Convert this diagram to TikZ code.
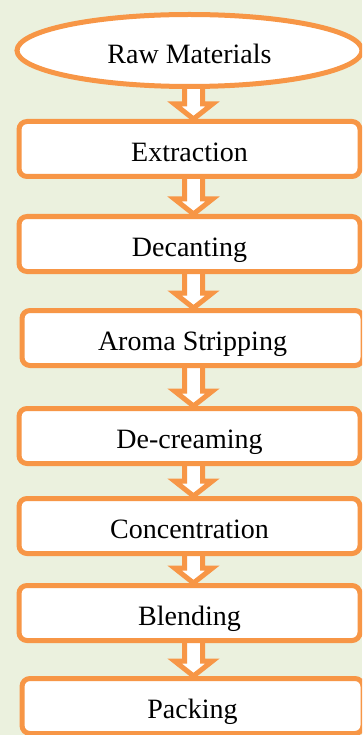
\documentclass[tikz,border=0pt]{standalone}
\usepackage{fontspec}
\setmainfont{Liberation Serif}
\usetikzlibrary{positioning,calc,shapes.geometric}
\definecolor{flowOrange}{HTML}{F79646}
\definecolor{flowGreen}{HTML}{EBF1DE}
\pgfdeclarelayer{back}
\pgfdeclarelayer{mid}
\pgfsetlayers{back,mid,main}

\begin{document}
\begin{tikzpicture}[
    procbox/.style={draw=flowOrange, line width=5pt, fill=white, rounded corners=8pt,
      minimum width=341pt, minimum height=55pt, inner sep=2pt,
      font=\fontsize{28}{32}\selectfont, text height=26pt, text depth=0.5pt},
    rawnode/.style={procbox, ellipse, sharp corners, minimum width=345pt, minimum height=72pt},
    blockarrow/.style={draw=flowOrange, line width=5pt, fill=white, line join=miter}
  ]
  \useasboundingbox (0,0) rectangle (362pt,-735pt);
  \clip (0,0) rectangle (362pt,-735pt);
  \begin{pgfonlayer}{back}
    \fill[flowGreen] (0,0) rectangle (362pt,-735pt);
  \end{pgfonlayer}
  \coordinate (axis) at (193.5pt,0);
  %
  \node[rawnode] (raw) at (189.5pt,-50.5pt) {Raw Materials};
  \node[procbox, below=30pt of raw] (extraction) {Extraction};
  \node[procbox, below=35pt of extraction] (decanting) {Decanting};
  \node[procbox, below=34pt of decanting, xshift=3pt] (aroma) {Aroma Stripping};
  \node[procbox, below=38pt of aroma, xshift=-3pt] (decreaming) {De-creaming};
  \node[procbox, below=30pt of decreaming] (concentration) {Concentration};
  \node[procbox, below=27pt of concentration] (blending) {Blending};
  \node[procbox, below=33pt of blending, xshift=3pt] (packing) {Packing};
  %
  \begin{pgfonlayer}{mid}
    \foreach \a/\b in {raw/extraction, extraction/decanting, decanting/aroma,
        aroma/decreaming, decreaming/concentration, concentration/blending,
        blending/packing}
      \draw[blockarrow] ($(axis |- \a.south)+(-9pt,3pt)$) -- ($(axis |- \b.north)+(-9pt,15pt)$)
        -- ($(axis |- \b.north)+(-19pt,15pt)$) -- (axis |- \b.north)
        -- ($(axis |- \b.north)+(19pt,15pt)$) -- ($(axis |- \b.north)+(9pt,15pt)$)
        -- ($(axis |- \a.south)+(9pt,3pt)$);
  \end{pgfonlayer}
\end{tikzpicture}
\end{document}
